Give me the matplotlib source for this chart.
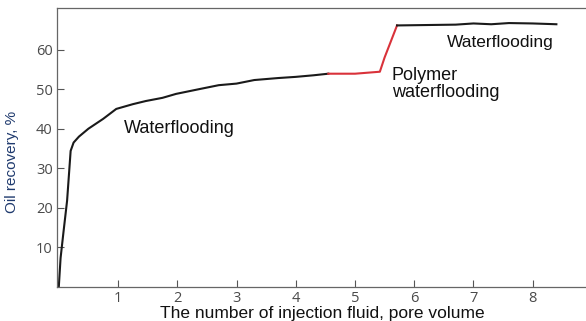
import matplotlib
matplotlib.use('Agg')
import matplotlib.pyplot as plt

plt.rcParams['font.family'] = ['Liberation Sans', 'DejaVu Sans']

# Waterflooding stage 1
water1_x = [0, 0.03, 0.08, 0.14, 0.2, 0.25, 0.34, 0.5, 0.75, 0.97, 1.25, 1.47,
            1.75, 1.98, 2.37, 2.7, 3.0, 3.3, 3.7, 4.0, 4.3, 4.55]
water1_y = [0, 7.3, 14, 21.8, 34.4, 36.5, 38, 40, 42.5, 45, 46.2, 47,
            47.8, 48.8, 50, 51, 51.4, 52.3, 52.8, 53.1, 53.5, 53.9]
# Polymer waterflooding
polymer_x = [4.55, 5.0, 5.42, 5.5, 5.71]
polymer_y = [53.9, 53.9, 54.4, 58, 66.1]
# Waterflooding stage 2
water2_x = [5.71, 6.2, 6.7, 7.0, 7.3, 7.6, 8.0, 8.4]
water2_y = [66.1, 66.2, 66.3, 66.6, 66.4, 66.7, 66.6, 66.4]

xticks = [1, 2, 3, 4, 5, 6, 7, 8]
yticks = [10, 20, 30, 40, 50, 60]

fig = plt.figure(figsize=(5.86, 3.21), dpi=100)
ax = fig.add_axes([0.0973, 0.106, 0.9027, 0.869])

ax.plot(water1_x, water1_y, color='#1a1a1a', lw=1.5)
ax.plot(polymer_x, polymer_y, color='#d9323a', lw=1.5)
ax.plot(water2_x, water2_y, color='#1a1a1a', lw=1.5)

ax.set_xlim(-0.03, 8.9)
ax.set_ylim(0, 70.5)
ax.set_xticks(xticks)
ax.set_yticks(yticks)
ax.tick_params(direction='in', length=5, width=0.8, color='#555555',
               labelcolor='#4a4a4a', labelsize=10.5, pad=3)
for lbl in ax.get_xticklabels() + ax.get_yticklabels():
    lbl.set_family(['Open Sans', 'DejaVu Sans'])
ax.spines['right'].set_visible(False)
for s in ['top', 'left', 'bottom']:
    ax.spines[s].set_color('#666666')
    ax.spines[s].set_linewidth(0.9)

ax.text(1.1, 40.0, 'Waterflooding', fontsize=13, color='#111111', va='center')
ax.text(5.62, 51.4, 'Polymer\nwaterflooding', fontsize=13, color='#111111',
        va='center', linespacing=1.0)
ax.text(6.55, 61.8, 'Waterflooding', fontsize=12.5, color='#111111', va='center')

ax.set_ylabel('Oil recovery, %', fontsize=11, color='#1f3a6e')
ax.yaxis.set_label_coords(-0.072, 0.45)
fig.text(0.55, 0.0, 'The number of injection fluid, pore volume',
         fontsize=12.5, color='#111111', ha='center', va='bottom')

fig.savefig('out.png', dpi=100)
